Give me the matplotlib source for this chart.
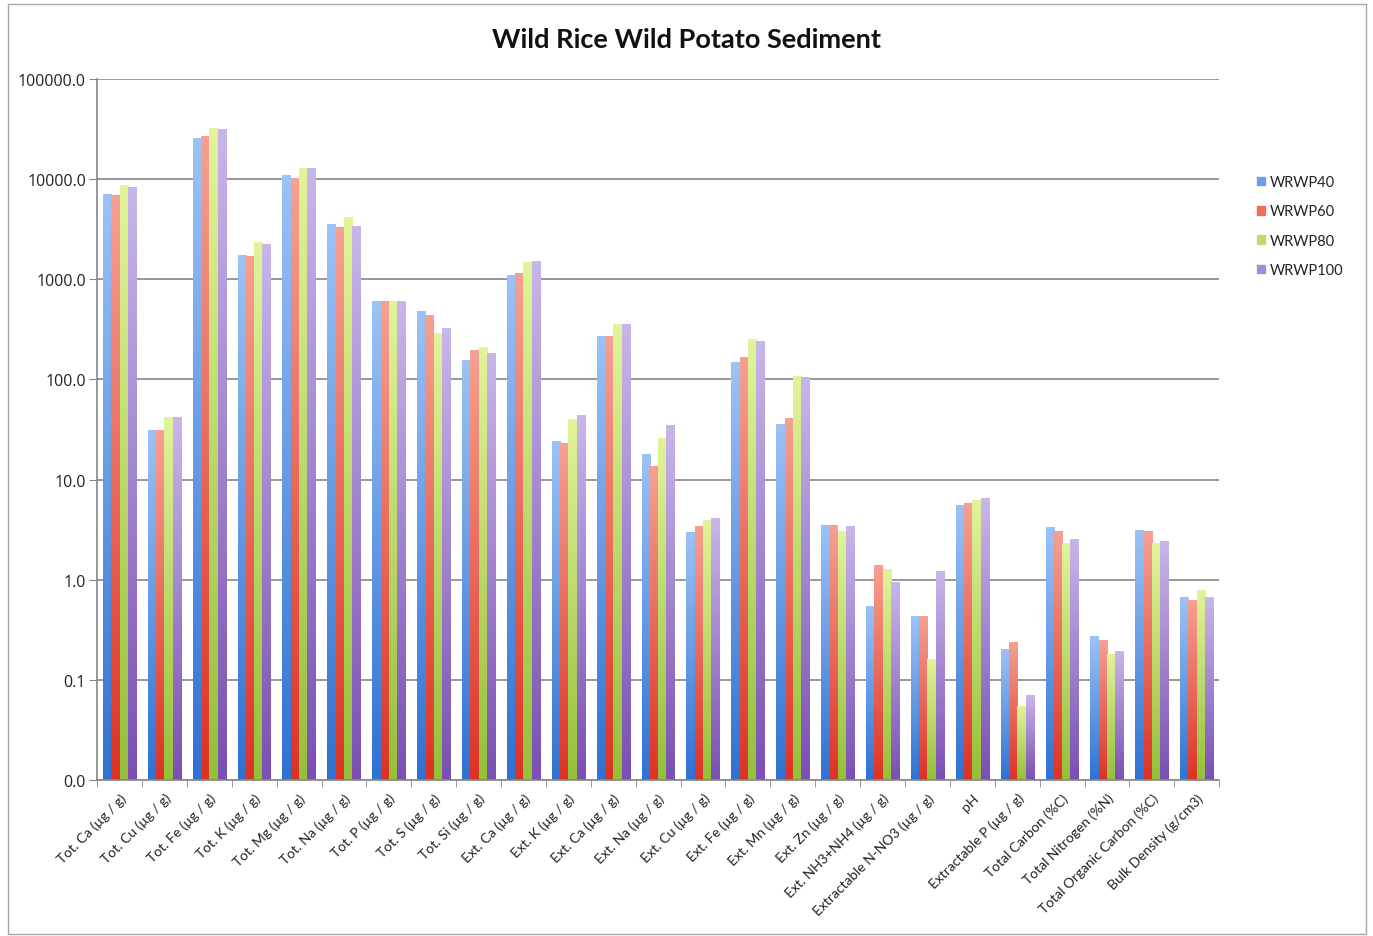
import matplotlib
matplotlib.use('Agg')
import matplotlib.pyplot as plt
import numpy as np
from matplotlib.colors import LinearSegmentedColormap
from matplotlib.ticker import FixedLocator, FuncFormatter
from matplotlib.transforms import BboxTransformTo, TransformedBbox
from matplotlib.patches import Rectangle

plt.rcParams['font.family'] = ['Lato', 'DejaVu Sans']

categories = [
    'Tot. Ca (µg / g)', 'Tot. Cu (µg / g)', 'Tot. Fe (µg / g)', 'Tot. K (µg / g)',
    'Tot. Mg (µg / g)', 'Tot. Na (µg / g)', 'Tot. P (µg / g)', 'Tot. S (µg / g)',
    'Tot. Si (µg / g)', 'Ext. Ca (µg / g)', 'Ext. K (µg / g)', 'Ext. Ca (µg / g)',
    'Ext. Na (µg / g)', 'Ext. Cu (µg / g)', 'Ext. Fe (µg / g)', 'Ext. Mn (µg / g)',
    'Ext. Zn (µg / g)', 'Ext. NH3+NH4 (µg / g)', 'Extractable N-NO3 (µg / g)', 'pH',
    'Extractable P (µg / g)', 'Total Carbon (%C)', 'Total Nitrogen (%N)',
    'Total Organic Carbon (%C)', 'Bulk Density (g/cm3)',
]
series = ['WRWP40', 'WRWP60', 'WRWP80', 'WRWP100']

wrwp40 = [7000, 31, 25700, 1750, 10800, 3570, 605, 475, 156, 1100, 24, 271, 17.8,
          2.95, 148, 35.5, 3.45, 0.53, 0.42, 5.5, 0.19, 3.3, 0.26, 3.1, 0.66]
wrwp60 = [6900, 31, 26500, 1700, 10200, 3270, 600, 436, 195, 1140, 22.7, 271, 13.5,
          3.4, 165, 41, 3.5, 1.38, 0.42, 5.75, 0.225, 3.05, 0.24, 3.0, 0.61]
wrwp80 = [8700, 41.5, 32400, 2340, 12900, 4170, 595, 290, 207, 1480, 40, 357, 26,
          3.9, 253, 106, 3.0, 1.27, 0.15, 6.2, 0.044, 2.3, 0.17, 2.3, 0.77]
wrwp100 = [8300, 42, 31600, 2240, 12900, 3400, 600, 324, 182, 1510, 44, 357, 35,
           4.05, 238, 105, 3.4, 0.93, 1.21, 6.45, 0.06, 2.5, 0.18, 2.4, 0.66]

values = [wrwp40, wrwp60, wrwp80, wrwp100]

# top (light) / bottom (dark) gradient colours, plus a mid colour for the legend
top_colors = ['#9cc2f6', '#f6a091', '#e2f39a', '#c8b6ea']
bottom_colors = ['#2f72d2', '#dc3325', '#94c03a', '#7a50b3']
legend_colors = ['#6f9fe6', '#ee6f60', '#bfdc6a', '#a58ad6']

YMIN, YMAX = 0.01, 100000

fig = plt.figure(figsize=(13.73, 9.37), dpi=100)
ax = fig.add_axes([0.0707, 0.1665, 0.8173, 0.748])
ax.set_yscale('log')
ax.set_xlim(-0.5, len(categories) - 0.5)
ax.set_ylim(YMIN, YMAX)

x = np.arange(len(categories))
width = 0.185
offsets = (np.arange(4) - 1.5) * width

for i, vals in enumerate(values):
    bars = ax.bar(x + offsets[i], vals, width, bottom=YMIN, color=legend_colors[i],
                  zorder=2, label=series[i])
    cmap = LinearSegmentedColormap.from_list('g%d' % i, [bottom_colors[i], top_colors[i]])
    grad = np.linspace(0, 1, 128).reshape(-1, 1)
    for b in bars:
        tr = BboxTransformTo(TransformedBbox(b.get_bbox(), ax.transData))
        ax.imshow(grad, extent=(0, 1, 0, 1), transform=tr, origin='lower',
                  aspect='auto', cmap=cmap, interpolation='bilinear', zorder=2.1)

ax.set_xlim(-0.5, len(categories) - 0.5)
ax.set_ylim(YMIN, YMAX)

ax.yaxis.set_major_locator(FixedLocator([10.0 ** k for k in range(-2, 6)]))
ax.yaxis.set_minor_locator(FixedLocator([]))
ax.yaxis.set_major_formatter(FuncFormatter(lambda v, p: '%.1f' % v))
ax.yaxis.grid(True, color='#868686', linewidth=1.2, zorder=0)
ax.set_axisbelow(True)

ax.set_xticks(x)
ax.set_xticklabels(categories, rotation=45, ha='right', rotation_mode='anchor')
ax.set_xticks(np.arange(len(categories) + 1) - 0.5, minor=True)
ax.tick_params(axis='x', which='major', length=0, pad=8, labelsize=10, labelcolor='#222222')
ax.tick_params(axis='x', which='minor', length=5, color='#868686')
ax.tick_params(axis='y', which='major', length=6, pad=2, color='#868686',
               labelsize=11.5, labelcolor='#222222')
for lab in ax.get_yticklabels():
    lab.set_family(['Open Sans', 'DejaVu Sans'])

for s in ['top', 'right']:
    ax.spines[s].set_visible(False)
for s in ['left', 'bottom']:
    ax.spines[s].set_color('#868686')
    ax.spines[s].set_linewidth(1.2)

fig.text(0.5, 0.957, 'Wild Rice Wild Potato Sediment', ha='center', va='center',
         fontsize=19.5, fontweight='bold', color='#111111')

handles = [Rectangle((0, 0), 1, 1, color=c) for c in legend_colors]
fig.legend(handles, series, loc='upper left', bbox_to_anchor=(0.906, 0.826),
           frameon=False, fontsize=10.5, handlelength=0.55, handleheight=0.55,
           handletextpad=0.3, labelspacing=1.05, labelcolor='#222222')

fig.patches.append(Rectangle((0.006, 0.002), 0.989, 0.993, transform=fig.transFigure,
                             fill=False, edgecolor='#a6a6a6', linewidth=1))

fig.savefig('out.png', dpi=100)
